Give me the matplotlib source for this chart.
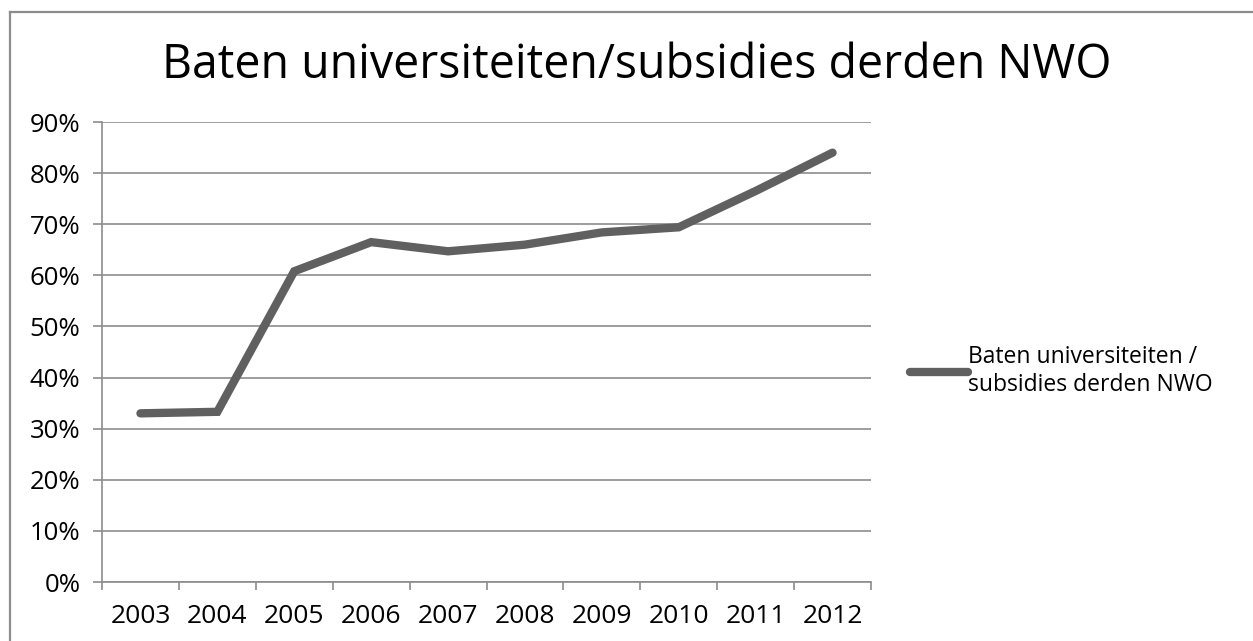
import matplotlib

matplotlib.use("Agg")
import matplotlib.pyplot as plt
from matplotlib.lines import Line2D
from matplotlib.ticker import FuncFormatter

years = ["2003", "2004", "2005", "2006", "2007", "2008", "2009", "2010", "2011", "2012"]
share = [33.0, 33.3, 60.8, 66.5, 64.7, 66.0, 68.4, 69.4, 76.5, 84.0]
series_label = "Baten universiteiten /\nsubsidies derden NWO"
title = "Baten universiteiten/subsidies derden NWO"

W, H = 1253, 641
plt.rcParams["font.family"] = ["Open Sans", "DejaVu Sans"]
fig = plt.figure(figsize=(W / 100, H / 100), dpi=100, facecolor="white")

# outer chart border (left and top visible)
border = dict(transform=fig.transFigure, color="#8c8c8c", linewidth=1.6)
fig.add_artist(Line2D([9.5 / W, 9.5 / W], [0, 1 - 11.5 / H], **border))
fig.add_artist(Line2D([9.5 / W, 1], [1 - 11.5 / H, 1 - 11.5 / H], **border))

ax = fig.add_axes([102 / W, 1 - 582 / H, (871 - 102) / W, (582 - 122) / H])
x = list(range(len(years)))
ax.plot(x, share, color="#606060", linewidth=6, solid_capstyle="round",
        solid_joinstyle="miter", label=series_label)

ax.set_xlim(-0.5, len(years) - 0.5)
ax.set_ylim(0, 90)
ax.set_yticks(range(0, 91, 10))
ax.yaxis.set_major_formatter(FuncFormatter(lambda v, _: f"{v:.0f}%"))
ax.set_xticks(x)
ax.set_xticklabels(years)
ax.set_xticks([i - 0.5 for i in range(len(years) + 1)], minor=True)

ax.grid(axis="y", color="#8c8c8c", linewidth=1.2)
ax.set_axisbelow(True)
for side in ("top", "right"):
    ax.spines[side].set_visible(False)
for side in ("left", "bottom"):
    ax.spines[side].set_color("#8c8c8c")
    ax.spines[side].set_linewidth(1.2)

ax.tick_params(axis="y", which="major", length=6.5, width=1.2, color="#8c8c8c",
               labelsize=18.5, pad=9, labelcolor="black")
ax.tick_params(axis="x", which="major", length=0, labelsize=19, pad=16,
               labelcolor="black")
ax.tick_params(axis="x", which="minor", length=6, width=1.2, color="#8c8c8c")

fig.text(637 / W, 1 - 78 / H, title, ha="center", va="baseline", fontsize=33.5)

ax.legend(loc="center left", bbox_to_anchor=(899 / W, 1 - 371 / H),
          bbox_transform=fig.transFigure, frameon=False, fontsize=16.5,
          handlelength=2.5, handletextpad=0.0, borderpad=0,
          labelspacing=0.3)

fig.savefig("out.png", dpi=100, facecolor="white")
